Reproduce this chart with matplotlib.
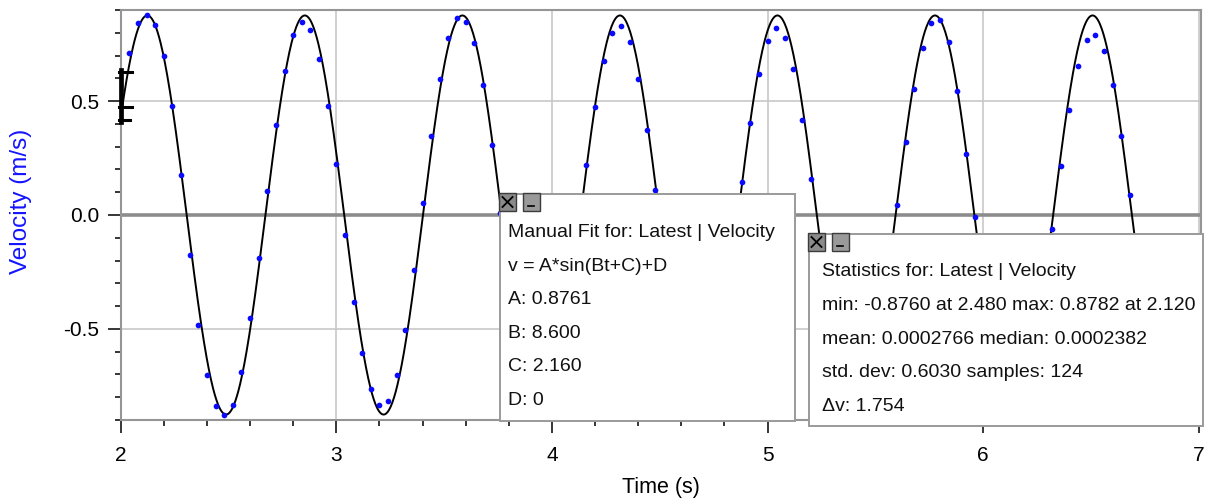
import matplotlib

matplotlib.use("Agg")
import matplotlib.pyplot as plt
import numpy as np
from matplotlib.lines import Line2D
from matplotlib.patches import Rectangle
from matplotlib.ticker import MultipleLocator, FormatStrFormatter

# sampled velocity (visible samples only)
time_s = [
    2.04, 2.08, 2.12, 2.16, 2.20, 2.24, 2.28, 2.32, 2.36, 2.40, 2.44, 2.48,
    2.52, 2.56, 2.60, 2.64, 2.68, 2.72, 2.76, 2.80, 2.84, 2.88, 2.92, 2.96,
    3.00, 3.04, 3.08, 3.12, 3.16, 3.20, 3.24, 3.28, 3.32, 3.36, 3.40, 3.44,
    3.48, 3.52, 3.56, 3.60, 3.64, 3.68, 3.72, 3.76,
    4.16, 4.20, 4.24, 4.28, 4.32, 4.36, 4.40, 4.44, 4.48,
    4.88, 4.92, 4.96, 5.00, 5.04, 5.08, 5.12, 5.16, 5.20,
    5.60, 5.64, 5.68, 5.72, 5.76, 5.80, 5.84, 5.88, 5.92, 5.96,
    6.32, 6.36, 6.40, 6.44, 6.48, 6.52, 6.56, 6.60, 6.64, 6.68,
]
velocity = [
    0.712, 0.841, 0.878, 0.834, 0.700, 0.477, 0.175, -0.177, -0.481, -0.701, -0.838, -0.876,
    -0.832, -0.689, -0.453, -0.187, 0.105, 0.395, 0.631, 0.789, 0.849, 0.813, 0.684, 0.479,
    0.223, -0.087, -0.383, -0.608, -0.763, -0.835, -0.816, -0.702, -0.505, -0.241, 0.054, 0.349,
    0.598, 0.776, 0.865, 0.848, 0.756, 0.569, 0.306, 0.007,
    0.220, 0.475, 0.675, 0.798, 0.829, 0.760, 0.599, 0.374, 0.108,
    0.145, 0.406, 0.618, 0.766, 0.819, 0.775, 0.639, 0.415, 0.156,
    0.045, 0.319, 0.555, 0.732, 0.842, 0.858, 0.759, 0.545, 0.269, -0.010,
    -0.063, 0.213, 0.463, 0.656, 0.769, 0.791, 0.720, 0.570, 0.349, 0.086,
]

# manual fit v = A*sin(Bt+C)+D
fit_A, fit_B, fit_C, fit_D = 0.8761, 8.600, 2.160, 0.0

fit_lines = [
    "Manual Fit for: Latest | Velocity",
    "v = A*sin(Bt+C)+D",
    f"A: {fit_A:.4f}",
    f"B: {fit_B:.3f}",
    f"C: {fit_C:.3f}",
    "D: 0",
]
stats_lines = [
    "Statistics for: Latest | Velocity",
    "min: -0.8760 at 2.480 max: 0.8782 at 2.120",
    "mean: 0.0002766 median: 0.0002382",
    "std. dev: 0.6030 samples: 124",
    "\u0394v: 1.754",
]

W, H = 1209, 499

plt.rcParams["font.family"] = ["Liberation Sans", "DejaVu Sans"]
plt.rcParams["axes.unicode_minus"] = False


def fx(px):
    return px / W


def fy(py):
    return 1 - py / H


def info_box(fig, x0, y0, x1, y1, lines, text_x, text_y0, step):
    fig.add_artist(Rectangle((fx(x0), fy(y1)), (x1 - x0) / W, (y1 - y0) / H,
                             transform=fig.transFigure, facecolor="white",
                             edgecolor="#9a9a9a", lw=1.4, zorder=10))
    # close / minimise buttons on the top-left corner
    bx, by = x0 - 1, y0 - 1
    for i, fc in enumerate(["#8a8a8a", "#9a9a9a"]):
        left = bx + i * 23.5
        fig.add_artist(Rectangle((fx(left), fy(by + 18)), 17 / W, 18 / H,
                                 transform=fig.transFigure, facecolor=fc,
                                 edgecolor="#3c3c3c", lw=1.0, zorder=12))
    cx, cy = bx + 8.5, by + 9
    for sx in (-1, 1):
        fig.add_artist(Line2D([fx(cx - 5), fx(cx + 5)], [fy(cy - 5 * sx), fy(cy + 5 * sx)],
                              transform=fig.transFigure, color="black", lw=1.3, zorder=13))
    ux = bx + 23.5 + 8.5
    fig.add_artist(Line2D([fx(ux - 3), fx(ux + 3)], [fy(by + 13), fy(by + 13)],
                          transform=fig.transFigure, color="black", lw=1.2, zorder=13))
    for i, s in enumerate(lines):
        fig.text(fx(text_x), fy(text_y0 + i * step), s, ha="left", va="center",
                 fontsize=14.0, color="#111111", zorder=14)


fig = plt.figure(figsize=(W / 100, H / 100), dpi=100)
ax = fig.add_axes([fx(120.7), fy(420), (1201 - 120.7) / W, (420 - 10) / H])

t_fit = np.linspace(2.0, 7.01, 2000)
v_fit = fit_A * np.sin(fit_B * t_fit + fit_C) + fit_D

ax.axhline(0, color="#8c8c8c", lw=2.6, zorder=1)
ax.plot(t_fit, v_fit, color="black", lw=1.4, zorder=3)
ax.plot(time_s, velocity, "o", color="#0a0aff", ms=4.1, mec="none", zorder=4)

ax.set_xlim(2.0, 7.01)
ax.set_ylim(-0.9, 0.9)
ax.xaxis.set_major_locator(MultipleLocator(1))
ax.xaxis.set_minor_locator(MultipleLocator(0.2))
ax.yaxis.set_major_locator(MultipleLocator(0.5))
ax.yaxis.set_minor_locator(MultipleLocator(0.1))
ax.yaxis.set_major_formatter(FormatStrFormatter("%.1f"))
ax.grid(True, which="major", color="#c8c8c8", lw=1.2, zorder=0)
ax.set_axisbelow(True)

for side in ["left", "right", "top", "bottom"]:
    ax.spines[side].set_color("#959595")
    ax.spines[side].set_linewidth(1.5)

ax.tick_params(which="major", direction="out", length=9.5, width=1.1, color="black",
               labelsize=15, pad=6)
ax.tick_params(axis="x", which="major", pad=9)
ax.tick_params(which="minor", direction="out", length=4.5, width=1.1, color="black")

ax.set_xlabel("Time (s)", fontsize=15.5)
ax.xaxis.set_label_coords(0.5, -0.138)
ax.set_ylabel("Velocity (m/s)", fontsize=17.5, color="#1414ff")
ax.yaxis.set_label_coords(-0.082, 0.533)

# selection bracket at the left edge
for xs, ys, lw in [
    ([120.5, 120.5], [70, 121.5], 3.4),
    ([119, 132], [71.5, 71.5], 2.2),
    ([119, 132], [107.5, 107.5], 2.2),
    ([119, 130], [120, 120], 2.2),
]:
    fig.add_artist(Line2D([fx(x) for x in xs], [fy(y) for y in ys],
                          transform=fig.transFigure, color="black", lw=lw, zorder=9))

info_box(fig, 500, 194, 795, 421, fit_lines, 507.5, 232.7, 33.5)
info_box(fig, 809, 234, 1203, 426, stats_lines, 822.5, 271.7, 33.7)

fig.savefig("out.png", dpi=100)
